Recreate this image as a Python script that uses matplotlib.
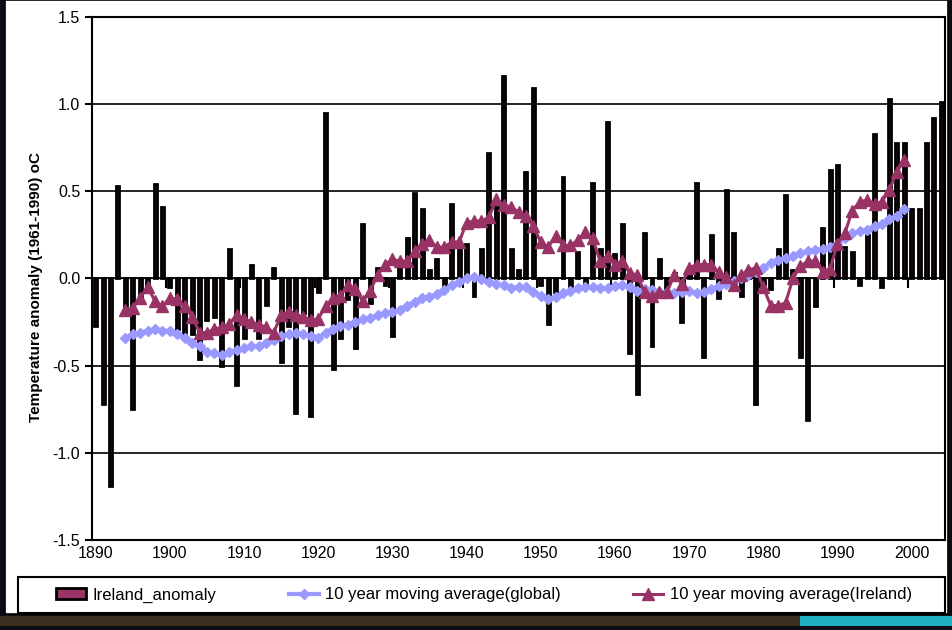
import numpy as np
import matplotlib
matplotlib.use('Agg')
import matplotlib.pyplot as plt
from matplotlib.patches import Rectangle

plt.rcParams['font.family'] = ['Liberation Sans', 'DejaVu Sans']

# yearly categories on the x axis
years = list(range(1890, 2005))

# Ireland yearly anomaly (bars), 1890-2004
ireland_anomaly = [
    -0.27, -0.72, -1.19, 0.53, -0.16, -0.75, -0.12, -0.05, 0.54, 0.41,
    -0.05, -0.29, -0.33, -0.32, -0.46, -0.24, -0.22, -0.50, 0.17, -0.61,
    -0.34, 0.08, -0.34, -0.15, 0.06, -0.48, -0.27, -0.77, -0.20, -0.79,
    -0.08, 0.95, -0.52, -0.34, -0.12, -0.40, 0.31, -0.14, 0.06, -0.04,
    -0.33, 0.08, 0.23, 0.49, 0.40, 0.05, 0.11, -0.06, 0.43, 0.18,
    0.20, -0.10, 0.17, 0.72, 0.41, 1.16, 0.17, 0.05, 0.61, 1.09,
    -0.04, -0.26, -0.08, 0.58, -0.06, 0.15, -0.05, 0.55, 0.17, 0.90,
    0.14, 0.31, -0.43, -0.66, 0.26, -0.39, 0.11, -0.06, 0.03, -0.25,
    0.03, 0.55, -0.45, 0.25, -0.11, 0.51, 0.26, -0.10, 0.03, -0.72,
    -0.03, -0.06, 0.17, 0.48, 0.05, -0.45, -0.81, -0.16, 0.29, 0.62,
    0.65, 0.18, 0.15, -0.04, 0.25, 0.83, -0.05, 1.03, 0.78, 0.78,
    0.40, 0.40, 0.78, 0.92, 1.01,
]

# moving averages cover 1894-1999
ma_years = list(range(1894, 2000))
ma_global = [
    -0.34, -0.32, -0.31, -0.30, -0.29, -0.30,
    -0.30, -0.32, -0.34, -0.37, -0.39, -0.42, -0.43, -0.44, -0.42, -0.41,
    -0.40, -0.39, -0.39, -0.37, -0.35, -0.33, -0.32, -0.31, -0.32, -0.33,
    -0.34, -0.31, -0.29, -0.27, -0.265, -0.25, -0.235, -0.225, -0.21, -0.20,
    -0.19, -0.18, -0.155, -0.135, -0.11, -0.105, -0.09, -0.065, -0.04, -0.02,
    0.0, 0.01, -0.005, -0.02, -0.03, -0.04, -0.055, -0.05, -0.05, -0.075,
    -0.10, -0.12, -0.105, -0.085, -0.07, -0.055, -0.05, -0.05, -0.055, -0.055,
    -0.045, -0.035, -0.05, -0.07, -0.06, -0.065, -0.075, -0.08, -0.085, -0.08,
    -0.07, -0.085, -0.08, -0.06, -0.045, -0.03, -0.015, 0.0, 0.02, 0.035,
    0.06, 0.09, 0.105, 0.12, 0.13, 0.145, 0.155, 0.165, 0.17, 0.18,
    0.20, 0.23, 0.26, 0.27, 0.28, 0.30, 0.31, 0.34, 0.36, 0.40,
]
ma_ireland = [
    -0.18, -0.17, -0.11, -0.05, -0.13, -0.16,
    -0.11, -0.12, -0.16, -0.22, -0.31, -0.31, -0.29, -0.28, -0.26, -0.21,
    -0.23, -0.25, -0.265, -0.28, -0.31, -0.21, -0.19, -0.21, -0.22, -0.24,
    -0.23, -0.16, -0.11, -0.10, -0.035, -0.06, -0.13, -0.07, 0.02, 0.08,
    0.11, 0.10, 0.10, 0.155, 0.20, 0.22, 0.18, 0.18, 0.21, 0.21,
    0.32, 0.33, 0.33, 0.35, 0.455, 0.42, 0.41, 0.38, 0.36, 0.30,
    0.21, 0.18, 0.245, 0.19, 0.19, 0.22, 0.265, 0.23, 0.10, 0.13,
    0.08, 0.10, 0.03, 0.02, -0.08, -0.10, -0.08, -0.08, 0.02, -0.03,
    0.06, 0.08, 0.08, 0.08, 0.035, 0.01, -0.04, 0.02, 0.05, 0.06,
    -0.05, -0.155, -0.155, -0.14, 0.0, 0.07, 0.10, 0.10, 0.04, 0.055,
    0.20, 0.26, 0.39, 0.44, 0.45, 0.43, 0.44, 0.51, 0.61, 0.68,
]

tick_years = list(range(1890, 2001, 10))

maroon = '#993366'
lilac = '#9999FF'

fig = plt.figure(figsize=(9.52, 6.30), dpi=100, facecolor='#0c0c16')

# slide-like frame around the chart
fig.patches.append(Rectangle((5 / 952, 16 / 630), 943 / 952, 614 / 630,
                             transform=fig.transFigure, facecolor='white',
                             edgecolor='black', lw=1.2, zorder=-10))
fig.patches.append(Rectangle((0, 4 / 630), 800 / 952, 10 / 630,
                             transform=fig.transFigure, facecolor='#3a3020',
                             edgecolor='none', zorder=-10))
fig.patches.append(Rectangle((800 / 952, 4 / 630), 152 / 952, 10 / 630,
                             transform=fig.transFigure, facecolor='#1fb0c4',
                             edgecolor='none', zorder=-10))
# legend box
fig.patches.append(Rectangle((18 / 952, 17 / 630), 927 / 952, 36 / 630,
                             transform=fig.transFigure, facecolor='white',
                             edgecolor='black', lw=1.5, zorder=-5))

ax = fig.add_axes([92 / 952, 90 / 630, 853 / 952, 523 / 630])
ax.set_facecolor('white')
ax.set_zorder(1)

x = np.arange(len(years))
xm = np.array([years.index(y) for y in ma_years])

# thin bars with a heavy black outline, as in the original
bars = ax.bar(x, ireland_anomaly, width=0.4, color=maroon,
              edgecolor='black', linewidth=2.0, zorder=2,
              label='Ireland_anomaly')
l_glob, = ax.plot(xm, ma_global, color=lilac, lw=3.0, marker='D',
                  markersize=5.5, zorder=3,
                  label='10 year moving average(global)')
l_irl, = ax.plot(xm, ma_ireland, color=maroon, lw=2.2, marker='^',
                 markersize=8, zorder=4,
                 label='10 year moving average(Ireland)')

ax.set_xlim(-0.5, len(years) - 0.5)
ax.set_ylim(-1.5, 1.5)
ax.set_yticks(np.arange(-1.5, 1.51, 0.5))
ax.yaxis.set_major_formatter(matplotlib.ticker.FormatStrFormatter('%.1f'))
ax.set_xticks([years.index(t) for t in tick_years])
ax.set_xticklabels([str(t) for t in tick_years])
ax.tick_params(axis='x', length=0, pad=4, labelsize=11.5)
ax.tick_params(axis='y', length=5, width=1.5, direction='out', labelsize=11.5)
ax.yaxis.grid(True, color='black', lw=1.2)
ax.set_axisbelow(True)
for s in ax.spines.values():
    s.set_linewidth(1.5)
    s.set_color('black')

# category axis crossing at zero with decade tick marks
zax = ax.secondary_xaxis(0.5)
zax.set_xticks([years.index(t) - 0.5 for t in tick_years[1:]])
zax.set_xticklabels([])
zax.tick_params(length=7, width=1.5, direction='in')
zax.spines['bottom'].set_linewidth(1.5)

ax.set_ylabel('Temperature anomaly (1961-1990) oC', fontsize=11,
              fontweight='bold')
ax.yaxis.set_label_coords(-0.058, 0.484)

leg = fig.legend([bars, l_glob, l_irl],
                 ['Ireland_anomaly', '10 year moving average(global)',
                  '10 year moving average(Ireland)'],
                 loc='center left',
                 bbox_to_anchor=(56 / 952, 17 / 630, 856 / 952, 36 / 630),
                 mode='expand', ncol=3, fontsize=12, frameon=False,
                 handlelength=1.8, handletextpad=0.4,
                 borderaxespad=0, borderpad=0)

fig.savefig('out.png', dpi=100, facecolor=fig.get_facecolor())
